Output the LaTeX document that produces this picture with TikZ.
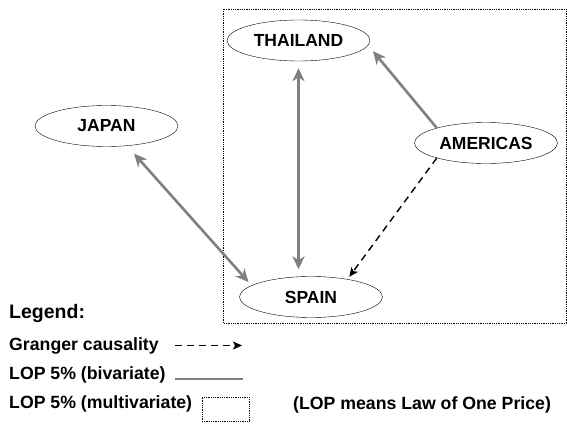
\documentclass[tikz,border=0pt]{standalone}
\usepackage{fontspec}
\setmainfont{Liberation Sans}
\usetikzlibrary{shapes.geometric,arrows.meta}
\definecolor{lopgray}{RGB}{128,128,128}

\begin{document}
\begin{tikzpicture}[x=1pt,y=-1pt,
  country/.style={ellipse,draw,thin,minimum width=143pt,minimum height=41pt,inner sep=0pt,font=\fontsize{17.5}{20}\selectfont\bfseries},
  lop/.style={draw=lopgray,line width=2.6pt,>={Stealth[length=13pt,width=12pt,inset=4pt]}},
  granger/.style={draw=black,line width=1.4pt,dash pattern=on 7pt off 5pt,>={Stealth[length=9pt,width=8pt,inset=2pt]}},
  legtext/.style={anchor=base west,inner sep=0pt,font=\fontsize{17.7}{20}\selectfont\bfseries}]
\useasboundingbox (0,0) rectangle (567,428);
\draw[densely dotted,line width=0.8pt] (223,9) rectangle (566,323);
\node[country] (thailand) at (298.5,40.5) {THAILAND};
\node[country] (americas) at (486,143) {AMERICAS};
\node[country] (japan) at (106.5,126) {JAPAN};
\node[country] (spain) at (311,297) {SPAIN};
\draw[lop,<->,shorten <=7pt,shorten >=7pt] (thailand.south) -- (thailand.south |- spain.north);
\draw[lop,->,shorten >=7.5pt] (americas.163) -- (thailand.-4);
\draw[lop,<->,shorten <=10.5pt,shorten >=4.5pt] (japan.-44) -- (spain.169);
\draw[granger,->,shorten >=3pt] (americas.197) -- (spain.26);
% legend
\node[legtext,font=\fontsize{19.5}{22}\selectfont\bfseries] (legend) at (9,318) {Legend:};
\node[legtext] (granger) at (9,350) {Granger causality};
\coordinate (gstart) at (175,345.5);
\coordinate (gend) at (242,345.5);
\draw[granger,->,line width=1.2pt] (gstart) -- (gend);
\node[legtext] (biv) at (9,379) {LOP 5\% (bivariate)};
\coordinate (bstart) at (175,379);
\coordinate (bend) at (243,379);
\draw[lop] (bstart) -- (bend);
\node[legtext] (multiv) at (9,408) {LOP 5\% (multivariate)};
\node[draw,densely dotted,line width=0.8pt,minimum width=47pt,minimum height=24pt,inner sep=0pt] (mvbox) at (225.5,409) {};
\node[legtext] (lopnote) at (293,409.5) {(LOP means Law of One Price)};
\end{tikzpicture}
\end{document}
